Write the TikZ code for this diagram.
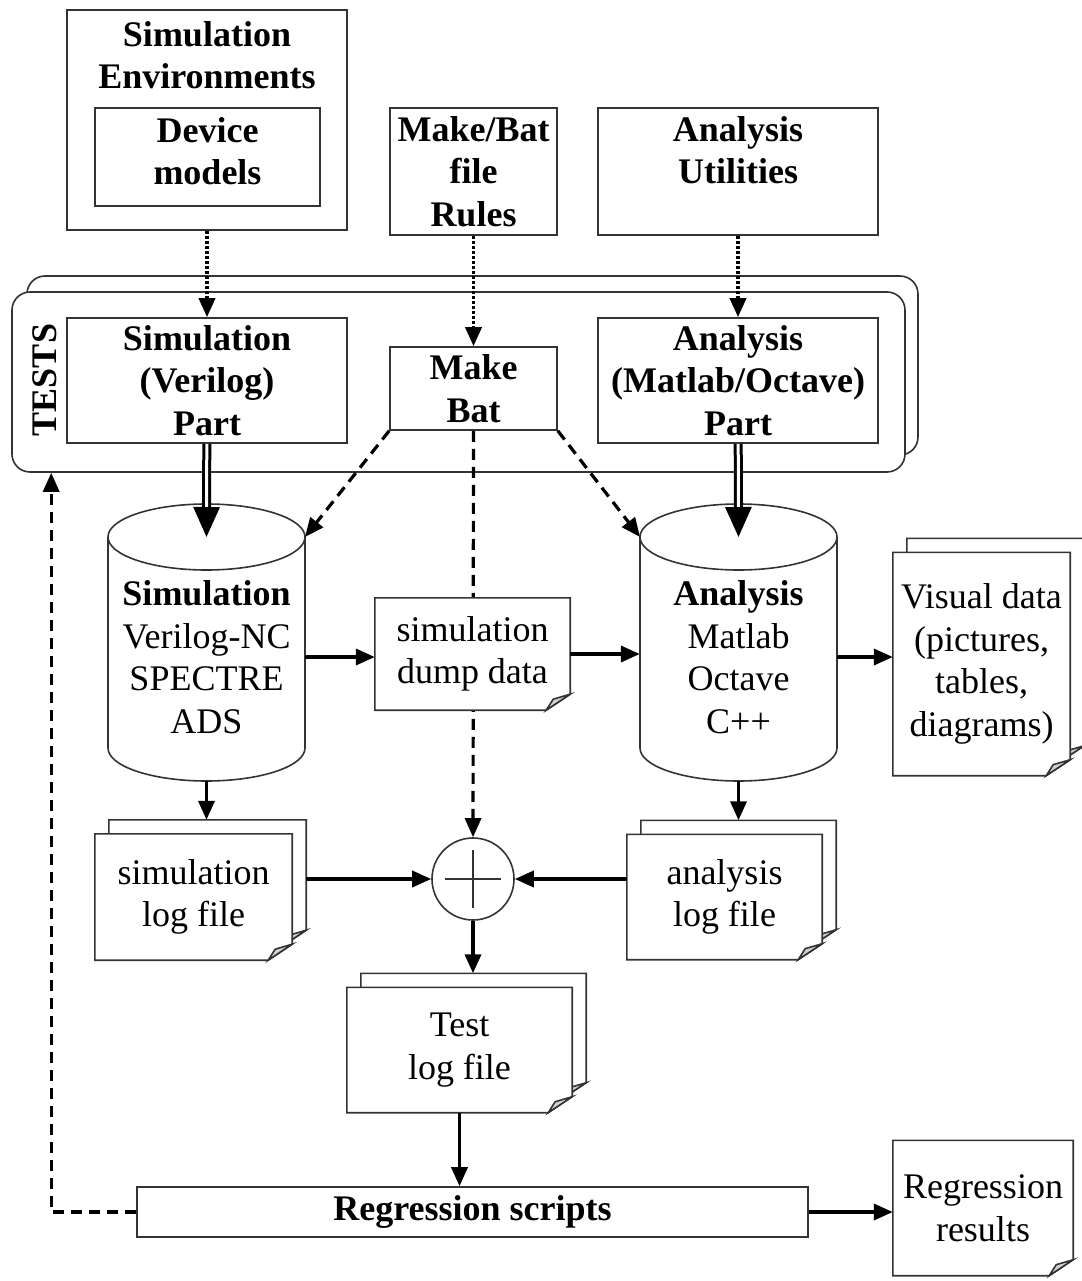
\documentclass[tikz,border=0pt]{standalone}
\usepackage{fontspec}
\setmainfont{Liberation Serif}
\usetikzlibrary{arrows.meta,calc,backgrounds}

% one sheet of paper with a curled corner, shifted by (#2,#3)
\newcommand\docsheet[3]{%
  \draw[sheetline,fill=white] ($(#1.north west)+(#2,#3)$) -- ($(#1.north east)+(#2,#3)$)
    -- ($(#1.south east)+(#2,#3-16)$) -- ($(#1.south east)+(#2-24,#3)$)
    -- ($(#1.south west)+(#2,#3)$) -- cycle;
  \filldraw[sheetline,fill=gray!35] ($(#1.south east)+(#2-24,#3)$) -- ($(#1.south east)+(#2,#3-16)$)
    -- ($(#1.south east)+(#2-17,#3-11)$) -- cycle;}
% two sheets, one behind the other
\newcommand\docstack[1]{%
  \docsheet{#1}{14}{-14}\docsheet{#1}{0}{0}
  \coordinate (#1-top) at ($(#1.north)+(7,-14)$);
  \coordinate (#1-right) at ($(#1.east)+(14,0)$);}
% database cylinder round a text node
\newcommand\dbshape[1]{%
  \coordinate (#1-top) at ($(#1.center)+(0,-120)$);
  \coordinate (#1-nw) at ($(#1.center)+(-98.5,-120)$);
  \coordinate (#1-ne) at ($(#1.center)+(98.5,-120)$);
  \coordinate (#1-bot) at ($(#1.center)+(0,124)$);
  \draw[boxline] (#1-nw) -- ++(0,211) arc[start angle=180,end angle=0,x radius=98.5,y radius=33] -- (#1-ne);
  \draw[boxline] (#1-top) ellipse[x radius=98.5,y radius=33];}

\begin{document}
\begin{tikzpicture}[>={Triangle[length=19pt,width=16pt]},line join=miter,x=1pt,y=-1pt,
  font=\fontsize{36}{42.5}\selectfont,
  boxline/.style={draw=black!80,line width=1.6pt},
  box/.style={boxline,align=center,inner sep=0pt,font=\fontsize{36}{42.5}\selectfont\bfseries},
  txt/.style={align=center,inner sep=0pt},
  sheetline/.style={draw=black!80,line width=1.6pt},
  arr/.style={->,line width=3.6pt},
  dotarr/.style={->,line width=3.6pt,dash pattern=on 3pt off 2pt},
  dasharr/.style={->,line width=3.2pt,dash pattern=on 11pt off 7pt},
  dblarr/.style={-{Triangle[length=30pt,width=26pt]},double,double distance=3pt,line width=3pt}]
\useasboundingbox (0,0) rectangle (1081,1281);
%%
\node (sim_env) at (207,120) [box,minimum width=280pt,minimum height=220pt] {};
  \node (sim_env_txt) at (207,55) [txt,font=\fontsize{36}{42.5}\selectfont\bfseries] {Simulation\\Environments};
  \node (dev_models) at (207.5,157) [box,minimum width=225pt,minimum height=98pt] {Device\\models\\[-30.5pt]~};
  \node (make_rules) at (473.5,171.5) [box,minimum width=167pt,minimum height=127pt] {Make/Bat\\file\\Rules};
  \node (ana_util) at (738,171.5) [box,minimum width=280pt,minimum height=127pt] {Analysis\\Utilities\\~};
%
\node (sim_part) at (207,380.5) [box,minimum width=280pt,minimum height=125pt] {Simulation\\(Verilog)\\Part};
  \node (make_bat) at (473.5,388.5) [box,minimum width=167pt,minimum height=83pt] {Make\\Bat};
  \node (ana_part) at (738,380.5) [box,minimum width=280pt,minimum height=125pt] {Analysis\\(Matlab/Octave)\\Part};
  \node (tests_txt) at (45,380) [txt,rotate=90,font=\fontsize{36}{42.5}\selectfont\bfseries] {TESTS};
%
\node (sim_db) at (206.5,657) [txt,minimum width=197pt] {\textbf{Simulation}\\Verilog-NC\\SPECTRE\\ADS};
  \node (dump_data) at (472.5,654) [txt,minimum width=195pt,minimum height=112pt] {simulation\\dump data};
  \node (ana_db) at (738.5,657) [txt,minimum width=197pt] {\textbf{Analysis}\\Matlab\\Octave\\C++};
  \node (visual_data) at (981.5,664) [txt,minimum width=177pt,minimum height=223pt] {Visual data\\(pictures,\\tables,\\diagrams)};
  \node (sim_log) at (193.5,897) [txt,minimum width=197pt,minimum height=126pt] {simulation\\log file};
  \node (plus) at (473,879) [boxline,circle,minimum size=82pt,inner sep=0pt] {};
  \node (ana_log) at (724.5,897) [txt,minimum width=195pt,minimum height=125pt] {analysis\\log file};
  \node (test_log) at (459.5,1050) [txt,minimum width=225pt,minimum height=125pt] {Test\\log file};
  \node (reg_scripts) at (472.5,1212) [box,minimum width=671pt,minimum height=50pt] {Regression scripts};
  \node (reg_results) at (983,1208) [txt,minimum width=180pt,minimum height=135pt] {Regression\\results};
%
\begin{scope}[on background layer]
  \node (tests_back) at (472.5,365.5) [boxline,fill=white,rounded corners=18pt,minimum width=891pt,minimum height=179pt] {};
  \node (tests) at (458.5,382) [boxline,fill=white,rounded corners=18pt,minimum width=893pt,minimum height=180pt] {};
  \draw [dasharr] (make_bat) -- (plus);
  \dbshape{sim_db}
  \dbshape{ana_db}
  \docsheet{dump_data}{0}{0}
  \docstack{visual_data}
  \docstack{sim_log}
  \docstack{ana_log}
  \docstack{test_log}
  \docsheet{reg_results}{0}{0}
\end{scope}
\draw [boxline] (plus.center) ++(-28,0) -- ++(56,0);
  \draw [boxline] (plus.center) ++(0,-29) -- ++(0,58);
%
\draw [dotarr] (sim_env) -- (sim_part);
  \draw [dotarr] (make_rules) -- (make_bat);
  \draw [dotarr] (ana_util) -- (ana_part);
  \draw [dblarr] (sim_part) -- (sim_db-top);
  \draw [dblarr] (ana_part) -- (ana_db-top);
  \draw [dasharr] (make_bat.south west) -- (sim_db-ne);
  \draw [dasharr] (make_bat.south east) -- (ana_db-nw);
  \draw [arr] (sim_db.east) -- (sim_db.east -| dump_data.west);
  \draw [arr] (dump_data.east) -- (dump_data.east -| ana_db.west);
  \draw [arr] (ana_db.east) -- (ana_db.east -| visual_data.west);
  \draw [arr] (sim_db-bot) -- (sim_db-bot |- sim_log-top);
  \draw [arr] (ana_db-bot) -- (ana_db-bot |- ana_log-top);
  \draw [arr] (sim_log-right |- plus.west) -- (plus.west);
  \draw [arr] (ana_log.west |- plus.east) -- (plus.east);
  \draw [arr] (plus.south) -- (plus.south |- test_log-top);
  \draw [arr] (test_log.south) -- (test_log.south |- reg_scripts.north);
  \draw [arr] (reg_scripts.east) -- (reg_scripts.east -| reg_results.west);
  \draw [dasharr] (reg_scripts.west) -| ($(tests.south west)+(40,0)$);
%
\end{tikzpicture}
\end{document}
